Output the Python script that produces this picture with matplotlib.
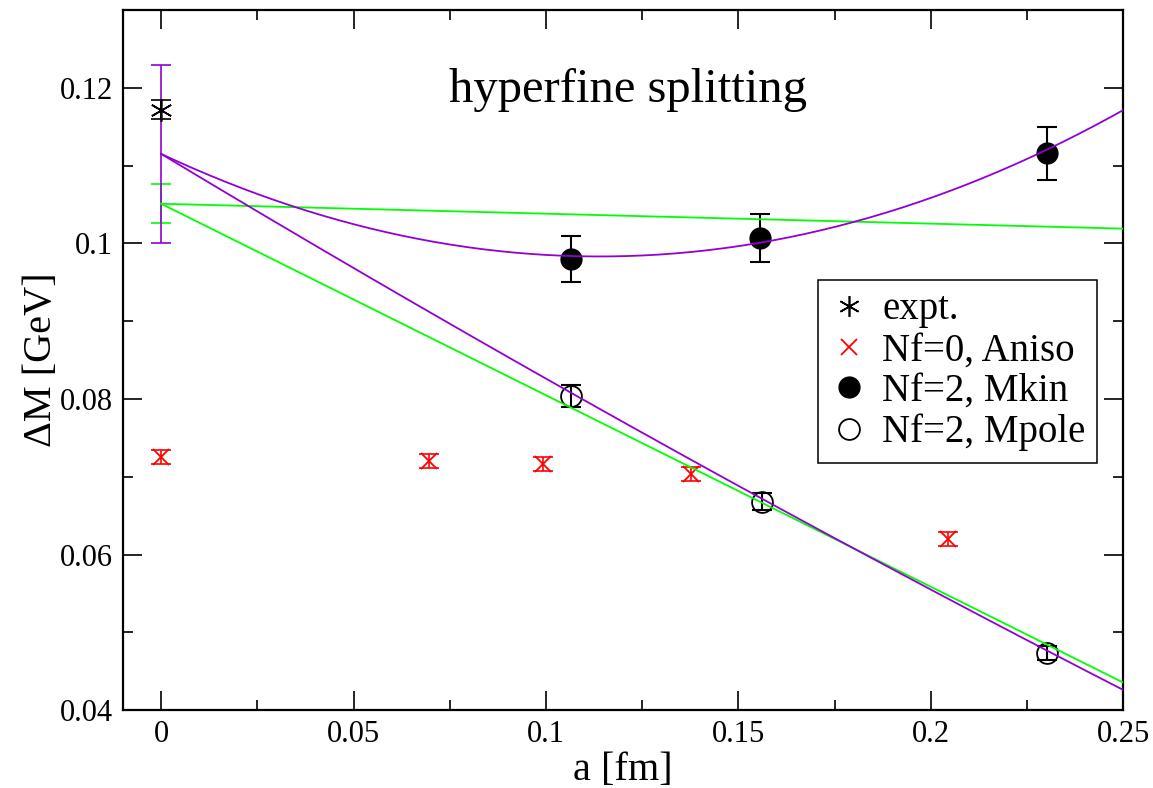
import numpy as np
import matplotlib
matplotlib.use('Agg')
import matplotlib.pyplot as plt
from matplotlib.lines import Line2D
from matplotlib.ticker import MultipleLocator, FuncFormatter

plt.rcParams['font.family'] = ['Liberation Serif', 'DejaVu Serif']

# ---- data ----
expt_a = [0.0]
expt_dm = [0.1172]
expt_err = [0.0012]

aniso_a = [0.0, 0.0697, 0.0993, 0.1377, 0.2045]
aniso_dm = [0.0726, 0.0720, 0.0716, 0.0703, 0.0620]
aniso_err = [0.0009, 0.0009, 0.0009, 0.0009, 0.0009]

mkin_a = [0.1066, 0.1557, 0.2301]
mkin_dm = [0.0980, 0.1007, 0.1116]
mkin_err = [0.0030, 0.0031, 0.0034]

mpole_a = [0.1066, 0.1560, 0.2302]
mpole_dm = [0.0804, 0.0668, 0.0474]
mpole_err = [0.0014, 0.0011, 0.0009]

# continuum fits: c0 + c1*a + c2*a^2
purple_quad_coef = [0.1115, -0.2314, 1.0159]
purple_lin_coef = [0.1115, -0.2977, 0.0884]
green_flat_coef = [0.1051, -0.0128, 0.0]
green_lin_coef = [0.1051, -0.2462, 0.0]
purple_a0_err = 0.0114
green_a0_err = 0.0025

labels = ['expt.', 'Nf=0, Aniso', 'Nf=2, Mkin', 'Nf=2, Mpole']
title_text = 'hyperfine splitting'

PURPLE = '#9400d3'
GREEN = '#00ff00'
RED = '#ff0000'

fig = plt.figure(figsize=(11.53, 7.88), dpi=100)
ax = fig.add_axes([0.1064, 0.0987, 0.9743 - 0.1064, 0.9873 - 0.0987])

cap = 7.2
elw = 1.2

# extrapolated values at a=0 with errors
ax.errorbar([0.0], [green_flat_coef[0]], yerr=[green_a0_err], fmt='none',
            ecolor=GREEN, elinewidth=elw, capsize=cap, capthick=elw, zorder=2)
ax.errorbar([0.0], [purple_quad_coef[0]], yerr=[purple_a0_err], fmt='none',
            ecolor=PURPLE, elinewidth=elw, capsize=cap, capthick=elw, zorder=2)

# data points
ax.errorbar(expt_a, expt_dm, yerr=expt_err, fmt='none', ecolor='black',
            elinewidth=elw, capsize=cap, capthick=elw, zorder=3)
ax.plot(expt_a, expt_dm, linestyle='none', marker=(6, 2, 0), markersize=16,
        color='black', markeredgewidth=1.2, zorder=3)

ax.errorbar(aniso_a, aniso_dm, yerr=aniso_err, fmt='none', ecolor=RED,
            elinewidth=elw, capsize=cap, capthick=elw, zorder=3)
ax.plot(aniso_a, aniso_dm, linestyle='none', marker='x', markersize=11,
        color=RED, markeredgewidth=1.3, zorder=3)

ax.errorbar(mkin_a, mkin_dm, yerr=mkin_err, fmt='none', ecolor='black',
            elinewidth=elw + 0.3, capsize=cap, capthick=elw + 0.3, zorder=3)
ax.plot(mkin_a, mkin_dm, linestyle='none', marker='o', markersize=15,
        markerfacecolor='black', markeredgecolor='black', zorder=3)

ax.errorbar(mpole_a, mpole_dm, yerr=mpole_err, fmt='none', ecolor='black',
            elinewidth=elw + 0.3, capsize=cap, capthick=elw + 0.3, zorder=3)
ax.plot(mpole_a, mpole_dm, linestyle='none', marker='o', markersize=15,
        markerfacecolor='none', markeredgecolor='black', markeredgewidth=1.3,
        zorder=3)

# fit curves
aa = np.linspace(0.0, 0.25, 300)
for coef, col in [(green_flat_coef, GREEN), (green_lin_coef, GREEN),
                  (purple_quad_coef, PURPLE), (purple_lin_coef, PURPLE)]:
    yy = coef[0] + coef[1] * aa + coef[2] * aa ** 2
    ax.plot(aa, yy, color=col, linewidth=1.3, zorder=4)

ax.set_xlim(-0.01, 0.25)
ax.set_ylim(0.04, 0.13)

ax.xaxis.set_major_locator(MultipleLocator(0.05))
ax.xaxis.set_minor_locator(MultipleLocator(0.025))
ax.yaxis.set_major_locator(MultipleLocator(0.02))
ax.yaxis.set_minor_locator(MultipleLocator(0.01))
fmt = FuncFormatter(lambda v, p: ('%g' % round(v, 6)))
ax.xaxis.set_major_formatter(fmt)
ax.yaxis.set_major_formatter(fmt)

ax.tick_params(which='both', direction='in', top=True, right=True,
               width=1.2, labelsize=22, pad=7)
ax.tick_params(which='major', length=14)
ax.tick_params(which='minor', length=7)
for s in ax.spines.values():
    s.set_linewidth(1.6)

ax.set_xlabel('a [fm]', fontsize=29, labelpad=2)
ax.set_ylabel('ΔM [GeV]', fontsize=29, labelpad=0)

ax.text(0.505, 0.869, title_text, transform=ax.transAxes, fontsize=35,
        ha='center', va='baseline')

handles = [
    Line2D([], [], linestyle='none', marker=(6, 2, 0), markersize=15,
           color='black', markeredgewidth=1.2),
    Line2D([], [], linestyle='none', marker='x', markersize=11, color=RED,
           markeredgewidth=1.3),
    Line2D([], [], linestyle='none', marker='o', markersize=15,
           markerfacecolor='black', markeredgecolor='black'),
    Line2D([], [], linestyle='none', marker='o', markersize=15,
           markerfacecolor='none', markeredgecolor='black',
           markeredgewidth=1.3),
]
leg = ax.legend(handles, labels, loc='upper right',
                bbox_to_anchor=(0.974, 0.615), fontsize=28, frameon=True,
                fancybox=False, framealpha=1, edgecolor='black',
                borderpad=0.3, handlelength=1.0, handletextpad=0.35,
                labelspacing=0.1, borderaxespad=0.0)
leg.get_frame().set_linewidth(1.1)
leg.set_zorder(5)

fig.savefig('out.png', dpi=100)
